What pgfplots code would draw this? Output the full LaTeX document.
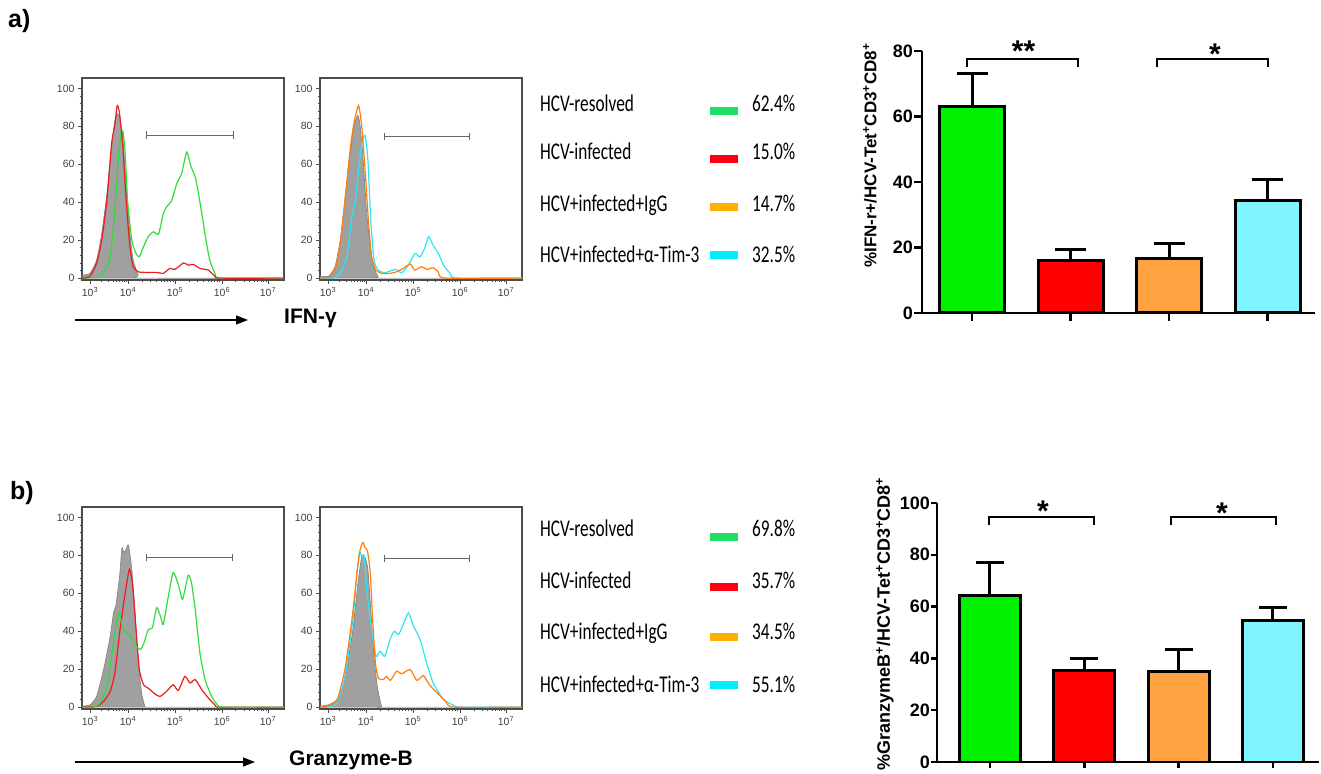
\documentclass[border=0pt]{standalone}
\usepackage{fontspec}
\setmainfont{Liberation Sans}
\newfontfamily\carl{Carlito}
\usepackage{graphicx}
\usepackage{pgfplots}
\pgfplotsset{compat=1.18}
\usetikzlibrary{arrows.meta}
\definecolor{hgreen}{HTML}{2FDD3A}
\definecolor{hred}{HTML}{EE1C1C}
\definecolor{horange}{HTML}{FF7F0E}
\definecolor{hcyan}{HTML}{2CE6F2}
\definecolor{hgreyfill}{HTML}{A0A0A0}
\definecolor{hgreyline}{HTML}{808080}
\definecolor{lgreen}{HTML}{1EE065}
\definecolor{lred}{HTML}{FF0010}
\definecolor{lorange}{HTML}{FFB000}
\definecolor{lcyan}{HTML}{00EEFF}
\definecolor{bgreen}{HTML}{00F000}
\definecolor{bred}{HTML}{FF0000}
\definecolor{borange}{HTML}{FFA23F}
\definecolor{bcyan}{HTML}{80F5FF}
\newcommand\legtxt[1]{\scalebox{0.72}[1]{\carl\fontsize{24}{24}\selectfont #1}}
\pgfplotsset{
 hist/.style={scale only axis, anchor=south west, width=202pt, height=202pt,
  xmin=3.02, xmax=7.32, ymin=-1, ymax=105.5,
  xtick={3.19,4,5,6,6.98},
  xticklabels={10\textsuperscript{3},10\textsuperscript{4},10\textsuperscript{5},10\textsuperscript{6},10\textsuperscript{7}},
  minor xtick={3.434,3.576,3.678,3.756,3.820,3.874,3.921,3.963,
   4.301,4.477,4.602,4.699,4.778,4.845,4.903,4.954,
   5.301,5.477,5.602,5.699,5.778,5.845,5.903,5.954,
   6.295,6.467,6.590,6.685,6.762,6.828,6.885,6.935},
  ytick={0,20,40,60,80,100}, minor y tick num=4,
  tick pos=left, tick align=outside, major tick length=4pt, minor tick length=2.5pt,
  axis line style={draw=black!70, line width=1.3pt},
  tick style={black!70, line width=0.7pt},
  tick label style={font=\fontsize{10.5}{10.5}\selectfont, text=black!75},
  /pgf/number format/assume math mode=true,
 },
 curve/.style={line width=1.2pt, smooth, tension=0.35},
 greyfill/.style={draw=hgreyline, fill=hgreyfill, line width=0.6pt, smooth, tension=0.35},
 barax/.style={scale only axis, anchor=south west, axis lines*=left,
  axis line style={line width=2.5pt}, tick align=outside,
  tick style={line width=2.5pt, black}, major tick length=8pt,
  xtick={1,2,3,4}, xticklabels={},
  tick label style={font=\bfseries\fontsize{18}{18}\selectfont},
  yticklabel style={inner sep=1pt},
  /pgf/number format/assume math mode=true,
 },
 onebar/.style={ybar, bar shift=0pt, draw=black, line width=3pt,
  error bars/y dir=plus, error bars/y explicit,
  error bars/error bar style={line width=3pt, black},
  error bars/error mark options={line width=3pt, black, mark size=#1, rotate=90}},
}
\begin{document}
\begin{tikzpicture}
\useasboundingbox (0pt,0pt) rectangle (1321pt,773pt);

% ---------- row a : histogram 1 ----------
\begin{axis}[hist, at={(82pt,493pt)}]
\addplot[greyfill] coordinates {(3.03,1.6)(3.19,2.5)(3.33,9.5)(3.44,23.5)(3.55,44.6)(3.65,69)(3.72,83)(3.77,86.7)(3.83,84)(3.90,71)(3.97,44.6)(4.04,23.5)(4.11,9.5)(4.22,1.6)(4.29,0)(7.32,0)} \closedcycle;
\addplot[curve, hgreen] coordinates {(3.03,0)(3.33,0.4)(3.48,2.5)(3.62,11)(3.72,36)(3.79,62)(3.84,74)(3.89,77.5)(3.94,65.6)(3.99,41)(4.08,20)(4.17,13)(4.24,11.2)(4.33,16.5)(4.43,21.8)(4.54,24.4)(4.65,23.2)(4.75,34)(4.82,37.5)(4.93,41)(5.04,50)(5.14,55)(5.25,66.5)(5.33,59.5)(5.43,53.3)(5.50,44.6)(5.57,34)(5.66,20)(5.74,9.5)(5.85,2.5)(5.96,0)(7.32,0)};
\addplot[curve, hred] coordinates {(3.03,0)(3.19,1)(3.33,7.7)(3.44,20)(3.55,41)(3.65,71)(3.72,81)(3.77,91)(3.82,86.7)(3.89,69)(3.96,41)(4.04,16.5)(4.11,6)(4.22,3.3)(4.40,3)(4.61,3)(4.75,2.5)(4.89,5.1)(5.00,4.6)(5.18,8)(5.28,6.8)(5.39,7.2)(5.53,5.1)(5.71,4.2)(5.85,1)(5.96,0)(7.32,0)};
\draw[black!60, line width=1.2pt] (axis cs:4.40,73.3) -- (axis cs:4.40,77.3) (axis cs:4.40,75.3) -- (axis cs:6.24,75.3) (axis cs:6.24,73.3) -- (axis cs:6.24,77.3);
\end{axis}

% ---------- row a : histogram 2 ----------
\begin{axis}[hist, at={(320pt,493pt)}]
\addplot[greyfill] coordinates {(3.02,1)(3.20,1)(3.34,6)(3.45,20)(3.55,41)(3.66,65.6)(3.74,79.6)(3.82,85.8)(3.87,81.4)(3.94,62)(4.01,35.8)(4.09,16.5)(4.16,6)(4.26,0.7)(4.33,0)(7.32,0)} \closedcycle;
\addplot[curve, hcyan] coordinates {(3.02,0)(3.30,0)(3.45,2.5)(3.59,11)(3.70,32)(3.77,41)(3.84,57)(3.91,71)(3.98,75.3)(4.04,62)(4.10,30.5)(4.17,9.5)(4.26,4.2)(4.40,2.8)(4.62,4.6)(4.76,2.8)(4.90,6.8)(5.04,13)(5.15,11.2)(5.26,16.5)(5.33,21.8)(5.43,17.4)(5.54,13)(5.65,6.8)(5.79,2.5)(5.93,0)(7.32,0)};
\addplot[curve, horange] coordinates {(3.02,0)(3.20,0.4)(3.34,5)(3.45,18)(3.55,41)(3.66,67.4)(3.74,81.4)(3.84,91)(3.91,79.6)(3.98,56.8)(4.05,30.5)(4.12,11.2)(4.21,4.2)(4.33,2.5)(4.51,2.5)(4.65,3.3)(4.79,5.1)(4.94,7.4)(5.04,4.2)(5.18,6)(5.29,4.6)(5.43,5.4)(5.54,3.3)(5.68,0)(7.32,0)};
\draw[black!60, line width=1.2pt] (axis cs:4.39,72.7) -- (axis cs:4.39,76.7) (axis cs:4.39,74.7) -- (axis cs:6.21,74.7) (axis cs:6.21,72.7) -- (axis cs:6.21,76.7);
\end{axis}

% ---------- row b : histogram 1 ----------
\begin{axis}[hist, at={(82pt,64pt)}]
\addplot[greyfill] coordinates {(3.03,0.5)(3.19,1.2)(3.33,5.6)(3.48,19.8)(3.62,37.4)(3.69,49.7)(3.74,53.3)(3.82,69)(3.87,84)(3.91,81.5)(3.96,83.2)(4.01,85.4)(4.08,72.7)(4.15,49.7)(4.22,23.3)(4.29,7.4)(4.36,0.4)(4.43,0)(7.32,0)} \closedcycle;
\addplot[curve, hred] coordinates {(3.03,0)(3.33,0.4)(3.48,3)(3.62,8.3)(3.72,18)(3.83,41)(3.94,60.3)(4.03,72.7)(4.10,63.8)(4.17,41)(4.24,19.8)(4.33,11.8)(4.43,10)(4.57,7)(4.68,5.6)(4.82,8.3)(4.96,11.8)(5.07,8.8)(5.21,16.2)(5.32,12.7)(5.43,14.5)(5.57,9.2)(5.71,4.8)(5.85,1.2)(5.96,0)(7.32,0)};
\addplot[curve, hgreen] coordinates {(3.03,0)(3.26,0)(3.40,2)(3.55,11)(3.65,26.8)(3.74,42.7)(3.81,49.7)(3.87,43.6)(3.94,39.2)(4.04,38.3)(4.15,33)(4.26,30.3)(4.34,33.9)(4.43,40.9)(4.52,41.8)(4.61,52.4)(4.70,47.1)(4.75,43.6)(4.86,58.6)(4.96,70.9)(5.07,64.7)(5.16,56.8)(5.28,69.5)(5.35,65.6)(5.43,51.5)(5.53,28.6)(5.64,14.5)(5.78,5.6)(5.92,0.7)(6.03,0)(7.32,0)};
\draw[black!60, line width=1.2pt] (axis cs:4.40,76.8) -- (axis cs:4.40,80.8) (axis cs:4.40,78.8) -- (axis cs:6.22,78.8) (axis cs:6.22,76.8) -- (axis cs:6.22,80.8);
\end{axis}

% ---------- row b : histogram 2 ----------
\begin{axis}[hist, at={(320pt,64pt)}]
\addplot[greyfill] coordinates {(3.02,0.5)(3.20,1.2)(3.38,3.9)(3.52,12.7)(3.62,25)(3.72,41)(3.82,63.8)(3.91,79.7)(3.98,78.8)(4.04,72.7)(4.10,51.5)(4.17,26.8)(4.24,10.9)(4.33,0.4)(4.40,0)(7.32,0)} \closedcycle;
\addplot[curve, hcyan] coordinates {(3.02,0)(3.16,0)(3.38,2.1)(3.55,16.2)(3.72,46.2)(3.80,69.1)(3.86,81.5)(3.91,79.4)(3.96,79.4)(4.03,58.6)(4.12,40.9)(4.21,26.8)(4.30,29.5)(4.40,26.8)(4.51,35.6)(4.60,40)(4.69,38.3)(4.78,42.7)(4.90,49.7)(5.01,42.7)(5.15,35.6)(5.29,23.3)(5.43,12.7)(5.65,3.9)(5.89,0.7)(6.00,0)(7.32,0)};
\addplot[curve, horange] coordinates {(3.02,0)(3.16,0.4)(3.38,3.5)(3.55,19.8)(3.70,46.2)(3.80,69.1)(3.87,82.4)(3.93,86.8)(3.98,84.1)(4.03,82.4)(4.09,70.9)(4.14,46.2)(4.20,23.3)(4.26,15.3)(4.37,14.5)(4.44,16.2)(4.52,14.1)(4.65,18.9)(4.76,17.6)(4.94,19.8)(5.08,14.1)(5.22,16.6)(5.35,11.8)(5.50,7.8)(5.68,3.5)(5.86,0)(7.32,0)};
\draw[black!60, line width=1.2pt] (axis cs:4.39,76.3) -- (axis cs:4.39,80.3) (axis cs:4.39,78.3) -- (axis cs:6.20,78.3) (axis cs:6.20,76.3) -- (axis cs:6.20,80.3);
\end{axis}

% ---------- bar chart a ----------
\begin{axis}[barax, at={(922pt,460pt)}, width=393pt, height=262pt,
  xmin=0.492, xmax=4.48, ymin=0, ymax=80, ytick={0,20,40,60,80}]
\addplot[fill=bgreen, bar width=65pt, onebar=15.5pt] coordinates {(1,63.2) +- (0,10.0)};
\addplot[fill=bred, bar width=65pt, onebar=15.5pt] coordinates {(2,15.9) +- (0,3.6)};
\addplot[fill=borange, bar width=65pt, onebar=15.5pt] coordinates {(3,16.6) +- (0,4.6)};
\addplot[fill=bcyan, bar width=65pt, onebar=15.5pt] coordinates {(4,34.5) +- (0,6.2)};
\end{axis}

% ---------- bar chart b ----------
\begin{axis}[barax, at={(937pt,11pt)}, width=382pt, height=259pt,
  xmin=0.438, xmax=4.49, ymin=0, ymax=100, ytick={0,20,40,60,80,100}, major tick length=6pt]
\addplot[fill=bgreen, bar width=61pt, onebar=14pt] coordinates {(1,64.1) +- (0,12.9)};
\addplot[fill=bred, bar width=61pt, onebar=14pt] coordinates {(2,35.5) +- (0,4.3)};
\addplot[fill=borange, bar width=61pt, onebar=14pt] coordinates {(3,35.1) +- (0,8.5)};
\addplot[fill=bcyan, bar width=61pt, onebar=14pt] coordinates {(4,54.6) +- (0,5.0)};
\end{axis}

\begin{scope}[x=1pt,y=1pt]
% ---------- significance brackets ----------
\draw[line width=2pt] (967,706) -- (967,714) -- (1078,714) -- (1078,706);
\draw[line width=2pt] (1157,706) -- (1157,714) -- (1268,714) -- (1268,706);
\node[anchor=base, inner sep=0] at (1023.5,711) {\bfseries\fontsize{30}{30}\selectfont **};
\node[anchor=base, inner sep=0] at (1215,708) {\bfseries\fontsize{30}{30}\selectfont *};
\draw[line width=2pt] (989,248) -- (989,256) -- (1094,256) -- (1094,248);
\draw[line width=2pt] (1171,248) -- (1171,256) -- (1276,256) -- (1276,248);
\node[anchor=base, inner sep=0] at (1043,251) {\bfseries\fontsize{30}{30}\selectfont *};
\node[anchor=base, inner sep=0] at (1222,249) {\bfseries\fontsize{30}{30}\selectfont *};

% ---------- bar y labels ----------
\node[rotate=90, anchor=east, inner sep=0] at (870,730) {\bfseries\fontsize{17}{17}\selectfont \%IFN-r+/HCV-Tet\textsuperscript{+}CD3\textsuperscript{+}CD8\textsuperscript{+}};
\node[rotate=90, anchor=east, inner sep=0] at (885,296) {\bfseries\fontsize{18}{18}\selectfont \%GranzymeB\textsuperscript{+}/HCV-Tet\textsuperscript{+}CD3\textsuperscript{+}CD8\textsuperscript{+}};

% ---------- legends ----------
\fill[lgreen] (710,658) rectangle (738,666);
\fill[lred] (710,610) rectangle (738,618);
\fill[lorange] (710,562) rectangle (738,570);
\fill[lcyan] (710,514) rectangle (738,522);
\node[anchor=base west, inner sep=0] at (540,661) {\legtxt{HCV-resolved}};
\node[anchor=base west, inner sep=0] at (540,613) {\legtxt{HCV-infected}};
\node[anchor=base west, inner sep=0] at (540,561) {\legtxt{HCV+infected+IgG}};
\node[anchor=base west, inner sep=0] at (540,510) {\legtxt{HCV+infected+α-Tim-3}};
\node[anchor=base west, inner sep=0] at (752,661) {\legtxt{62.4\%}};
\node[anchor=base west, inner sep=0] at (752,613) {\legtxt{15.0\%}};
\node[anchor=base west, inner sep=0] at (752,561) {\legtxt{14.7\%}};
\node[anchor=base west, inner sep=0] at (752,510) {\legtxt{32.5\%}};

\fill[lgreen] (710,232) rectangle (738,240);
\fill[lred] (710,182) rectangle (738,190);
\fill[lorange] (710,132) rectangle (738,140);
\fill[lcyan] (710,84) rectangle (738,92);
\node[anchor=base west, inner sep=0] at (540,236) {\legtxt{HCV-resolved}};
\node[anchor=base west, inner sep=0] at (540,184) {\legtxt{HCV-infected}};
\node[anchor=base west, inner sep=0] at (540,133) {\legtxt{HCV+infected+IgG}};
\node[anchor=base west, inner sep=0] at (540,80) {\legtxt{HCV+infected+α-Tim-3}};
\node[anchor=base west, inner sep=0] at (752,236) {\legtxt{69.8\%}};
\node[anchor=base west, inner sep=0] at (752,184) {\legtxt{35.7\%}};
\node[anchor=base west, inner sep=0] at (752,133) {\legtxt{34.5\%}};
\node[anchor=base west, inner sep=0] at (752,80) {\legtxt{55.1\%}};

% ---------- arrows and axis names ----------
\draw[line width=1.3pt, -{Triangle[length=12pt,width=9pt]}] (75,453) -- (248,453);
\node[anchor=west, inner sep=0] at (284,455) {\bfseries\fontsize{21}{21}\selectfont IFN-γ};
\draw[line width=1.3pt, -{Triangle[length=12pt,width=9pt]}] (75,11) -- (255,11);
\node[anchor=west, inner sep=0] at (289,13) {\bfseries\fontsize{21}{21}\selectfont Granzyme-B};

% ---------- panel letters ----------
\node[anchor=base west, inner sep=0] at (8,745) {\bfseries\fontsize{25}{25}\selectfont a)};
\node[anchor=base west, inner sep=0] at (10,273) {\bfseries\fontsize{25}{25}\selectfont b)};
\end{scope}
\end{tikzpicture}
\end{document}
